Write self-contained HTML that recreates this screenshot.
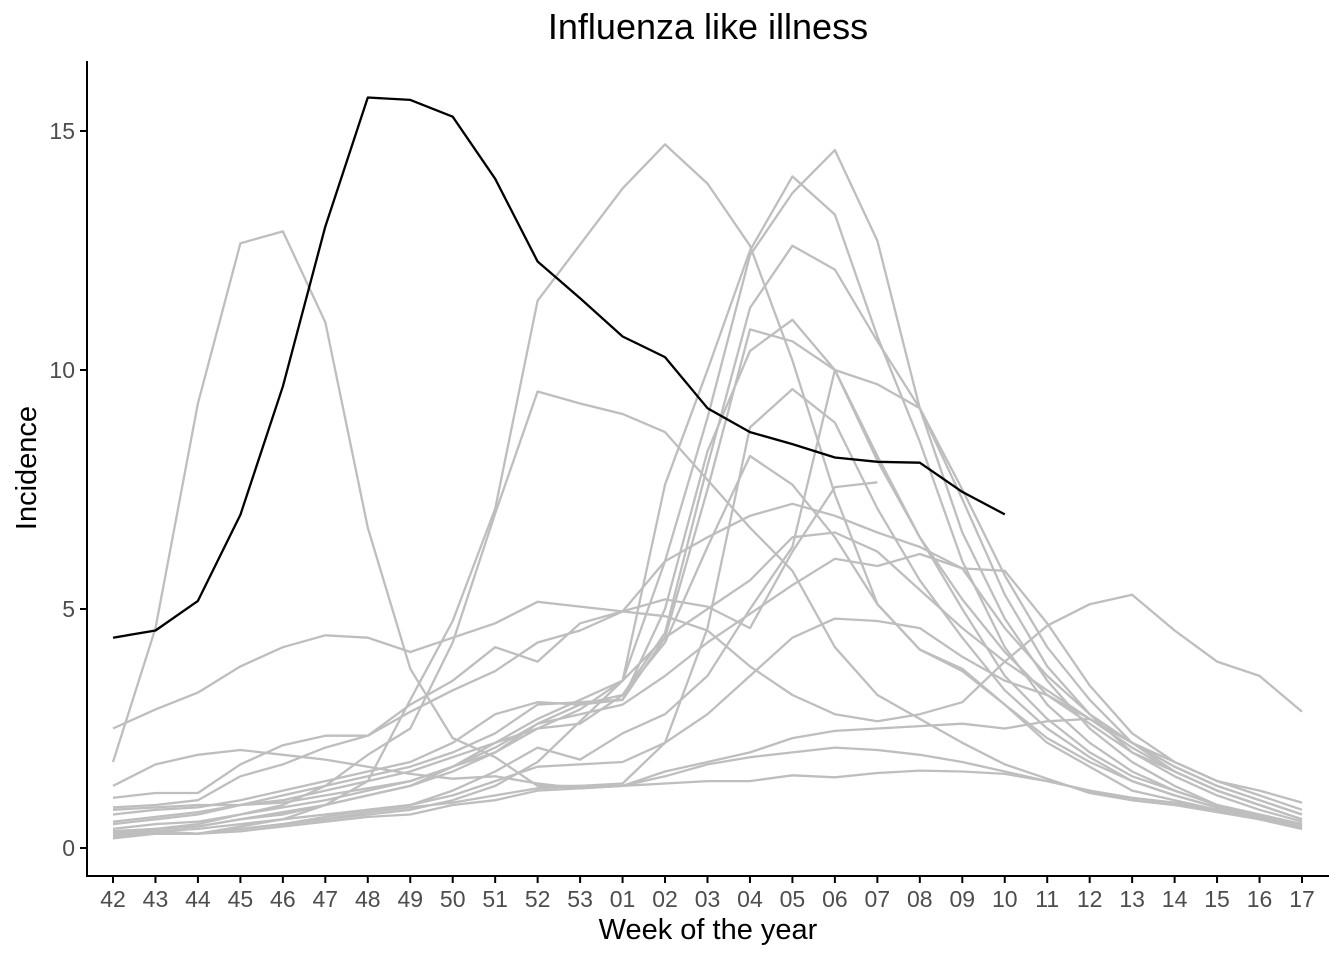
<!DOCTYPE html>
<html><head><meta charset="utf-8">
<style>
html,body{margin:0;padding:0;background:#fff;}
svg{display:block;font-family:"Liberation Sans",sans-serif;}
</style></head>
<body>
<svg id="chart" width="1344" height="960" viewBox="0 0 1344 960" xmlns="http://www.w3.org/2000/svg">
<text x="708" y="39" text-anchor="middle" font-size="36" fill="#000">Influenza like illness</text>
<text x="708" y="939" text-anchor="middle" font-size="29" fill="#000">Week of the year</text>
<text transform="translate(36,468) rotate(-90)" text-anchor="middle" font-size="29" fill="#000">Incidence</text>
<g id="grey"></g>
<g id="cur"></g>
<g id="axes"></g>
</svg>
<script>
const weeks = ["42","43","44","45","46","47","48","49","50","51","52","53","01","02","03","04","05","06","07","08","09","10","11","12","13","14","15","16","17"];
const yTicks = [0,5,10,15];
const current = [4.4,4.55,5.17,6.97,9.66,13.0,15.7,15.65,15.3,14.0,12.27,11.5,10.7,10.27,9.2,8.7,8.45,8.17,8.08,8.06,7.45,6.98];
const s1 = [1.8,4.6,9.3,12.65,12.9,11.0,6.7,3.75,2.3,1.9,1.3,null,1.3,1.35,1.4,1.4,1.52,1.48,1.57,1.62,1.6,1.55,1.4,1.2,1.05,0.95,0.8,0.6,0.45];
const s2 = [0.25,0.35,0.3,0.45,0.6,0.9,1.4,3.1,4.75,7.1,11.45,null,13.8,14.72,13.9,12.6,10.2,7.4,5.1,4.15,3.75,3.0,2.2,1.7,1.2,1.0,0.8,0.6,0.4];
const s3 = [0.35,0.4,0.5,0.7,0.9,1.3,1.95,2.5,4.3,7.0,9.55,9.3,9.08,8.7,7.7,6.7,5.8,4.2,3.2,2.7,2.2,1.75,1.45,1.15,1.0,0.9,0.75,0.6,0.4];
const s4 = [0.2,0.3,0.3,0.4,0.5,0.6,0.7,0.8,1.0,1.3,1.8,null,3.5,6.0,9.0,12.4,13.7,14.6,12.7,9.2,6.6,4.8,3.5,2.5,1.8,1.3,0.9,0.6,0.45];
const s5 = [0.3,0.4,0.45,0.6,0.7,0.9,1.1,1.3,1.7,2.2,2.7,null,3.5,7.6,10.0,12.5,14.05,13.25,10.7,8.5,6.0,4.2,3.0,2.2,1.6,1.2,0.9,0.7,0.5];
const s6 = [0.4,0.5,0.55,0.7,0.85,1.0,1.2,1.4,1.7,2.0,2.6,3.0,3.2,4.5,8.0,11.3,12.6,12.1,10.6,9.2,7.5,5.7,4.2,3.1,2.2,1.6,1.2,0.9,0.6];
const s7 = [0.5,0.6,0.7,0.9,1.1,1.3,1.5,1.7,2.0,2.4,3.0,3.05,3.1,5.0,8.3,10.4,11.05,10.0,8.2,6.5,5.0,3.6,2.7,2.0,1.5,1.2,0.9,0.7,0.5];
const s8 = [0.7,0.8,0.85,1.0,1.2,1.4,1.6,1.8,2.2,2.8,3.05,3.0,3.1,4.4,7.5,10.85,10.6,10.0,9.7,9.2,7.3,5.3,3.8,2.8,2.0,1.5,1.1,0.8,0.55];
const s9 = [0.3,0.35,0.4,0.5,0.6,0.7,0.8,0.9,1.2,1.6,2.1,1.85,2.4,2.8,3.6,5.0,6.3,10.0,8.1,6.5,5.2,4.1,3.2,2.6,2.0,1.6,1.2,0.9,0.6];
const s10 = [0.25,0.3,0.3,0.4,0.5,0.65,0.8,0.9,1.1,1.4,1.7,1.75,1.8,2.2,4.6,8.8,9.6,8.9,7.1,5.6,4.4,3.3,2.5,1.9,1.4,1.1,0.85,0.65,0.45];
const s11 = [0.35,0.4,0.45,0.6,0.75,0.9,1.1,1.3,1.6,2.0,2.5,2.6,3.2,4.3,6.3,8.2,7.6,6.5,5.1,4.15,3.7,3.0,2.3,1.8,1.4,1.1,0.85,0.65,0.45];
const s12 = [2.5,2.9,3.25,3.8,4.2,4.45,4.4,4.1,4.4,4.7,5.15,5.05,4.95,4.85,4.55,3.8,3.2,2.8,2.65,2.8,3.05,3.9,4.65,5.1,5.3,4.55,3.9,3.6,2.85];
const s13 = [1.05,1.15,1.15,1.75,2.15,2.35,2.35,3.0,3.5,4.2,3.9,4.7,4.95,6.0,6.5,6.95,7.2,6.95,6.6,6.3,5.85,5.8,4.7,3.4,2.4,1.8,1.4,1.2,0.95];
const s14 = [0.85,0.9,1.0,1.5,1.75,2.1,2.35,2.85,3.3,3.7,4.3,4.55,4.95,5.2,5.05,4.6,6.2,7.55,7.65,null,null,null,null,null,null,null,null,null,null];
const s15 = [0.55,0.65,0.75,0.9,1.0,1.2,1.4,1.6,1.9,2.2,2.5,2.9,3.5,4.4,5.0,5.6,6.5,6.6,6.2,5.4,4.6,3.9,3.3,2.7,2.2,1.8,1.4,1.1,0.8];
const s16 = [0.8,0.85,0.9,0.9,0.95,1.1,1.25,1.4,1.7,2.1,2.6,2.8,3.0,3.6,4.3,4.9,5.5,6.05,5.9,6.15,5.85,4.6,3.6,2.8,2.2,1.7,1.3,1.0,0.7];
const s17 = [0.3,0.3,0.3,0.4,0.5,0.6,0.75,0.85,0.95,1.1,1.25,1.3,1.35,2.2,2.8,3.6,4.4,4.8,4.75,4.6,4.0,3.5,3.2,2.7,2.2,1.7,1.3,1.0,0.7];
const s18 = [1.3,1.75,1.95,2.05,1.95,1.85,1.7,1.55,1.45,1.5,1.35,1.25,1.3,1.6,1.8,2.0,2.3,2.45,2.5,2.55,2.6,2.5,2.65,2.7,2.1,1.6,1.2,0.9,0.6];
const s19 = [0.3,0.3,0.3,0.35,0.45,0.55,0.65,0.7,0.9,1.0,1.2,1.25,1.3,1.5,1.75,1.9,2.0,2.1,2.05,1.95,1.8,1.6,1.4,1.2,1.0,0.9,0.8,0.65,0.5];
const pastSeasons = [s1,s2,s3,s4,s5,s6,s7,s8,s9,s10,s11,s12,s13,s14,s15,s16,s17,s18,s19];

const NS = "http://www.w3.org/2000/svg";
const x0 = 113, x1 = 1302;
function xScale(i){ return x0 + i*(x1-x0)/(weeks.length-1); }
function yScale(v){ return 848 - v*(848-131)/15; }
function pathFor(arr){
  let d = "";
  arr.forEach((v,i)=>{ if(v===null||v===undefined) return; d += (d===""?"M":"L")+xScale(i).toFixed(1)+","+yScale(v).toFixed(1); });
  return d;
}
const grey = document.getElementById('grey');
pastSeasons.forEach((s,k)=>{
  const p = document.createElementNS(NS,'path');
  p.setAttribute('d', pathFor(s));
  p.setAttribute('fill','none'); p.setAttribute('stroke','#bebebe'); p.setAttribute('stroke-width','2.3');
  p.setAttribute('stroke-linejoin','round');
  
  
  grey.appendChild(p);
});
const cur = document.getElementById('cur');
const cp = document.createElementNS(NS,'path');
cp.setAttribute('d', pathFor(current));
cp.setAttribute('fill','none'); cp.setAttribute('stroke','#000'); cp.setAttribute('stroke-width','2.3');
cp.setAttribute('stroke-linejoin','round');


cur.appendChild(cp);

const axes = document.getElementById('axes');
function line(x1_,y1_,x2_,y2_,name){
  const l = document.createElementNS(NS,'line');
  l.setAttribute('x1',x1_); l.setAttribute('y1',y1_); l.setAttribute('x2',x2_); l.setAttribute('y2',y2_);
  l.setAttribute('stroke','#000'); l.setAttribute('stroke-width','2');
  
  
  axes.appendChild(l);
}
line(87,61,87,877,'y-axis-line');
line(86,876,1329,876,'x-axis-line');
yTicks.forEach(t=>{
  const y = yScale(t);
  line(80,y,87,y,'y-tick');
  const tx = document.createElementNS(NS,'text');
  tx.setAttribute('x',75); tx.setAttribute('y',y+8); tx.setAttribute('text-anchor','end');
  tx.setAttribute('font-size','23'); tx.setAttribute('fill','#4d4d4d');
  tx.textContent = t;
  
  
  axes.appendChild(tx);
});
weeks.forEach((w,i)=>{
  const x = xScale(i);
  line(x,876,x,883,'x-tick');
  const tx = document.createElementNS(NS,'text');
  tx.setAttribute('x',x); tx.setAttribute('y',907); tx.setAttribute('text-anchor','middle');
  tx.setAttribute('font-size','23'); tx.setAttribute('fill','#4d4d4d');
  tx.textContent = w;
  
  
  axes.appendChild(tx);
});
</script>
</body></html>
